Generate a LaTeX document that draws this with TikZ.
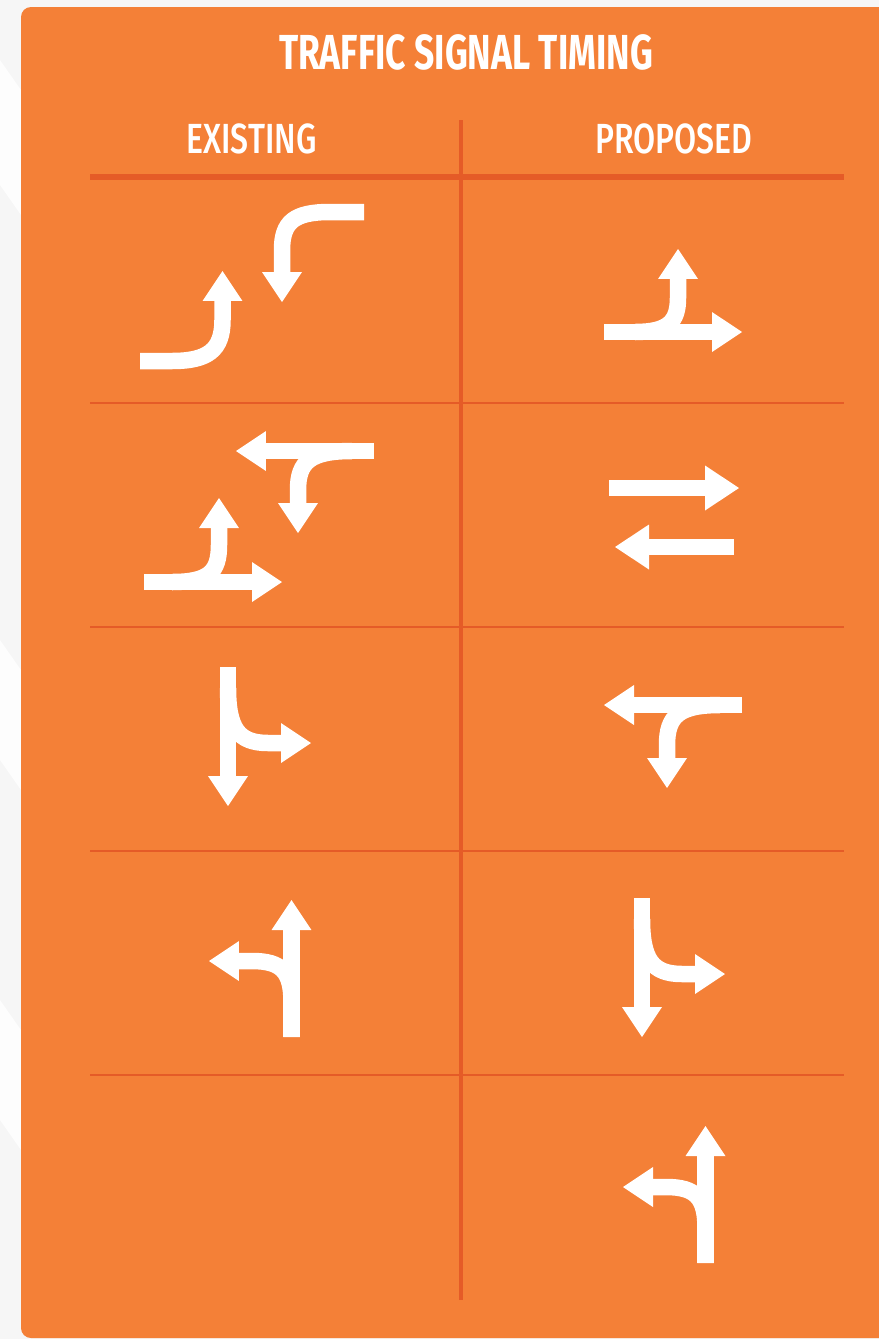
\documentclass[tikz,border=0pt]{standalone}
\usepackage{fontspec}
\newfontfamily\signfont{Fira Sans}[FakeStretch=0.72]
\newfontfamily\colfont{Fira Sans Medium}[FakeStretch=0.76]
\usetikzlibrary{arrows.meta,calc}
\definecolor{signalorange}{HTML}{F48037}
\definecolor{gridred}{HTML}{E55B27}
\definecolor{bggrey}{HTML}{F6F6F6}
\definecolor{bgwhite}{HTML}{FDFDFD}

\tikzset{
  lane/.style={white, line width=0.33cm},
  lanearrow/.style={lane, -{Triangle[length=0.6cm,width=0.8cm,line width=0pt]}},
  widearrow/.style={lane, -{Triangle[length=0.68cm,width=0.9cm,line width=0pt]}},
  headtext/.style={text=white, anchor=base, inner sep=0pt},
}

\begin{document}
\begin{tikzpicture}[x=0.02cm,y=-0.02cm]
        % Page and background
        \useasboundingbox (0,0) rectangle (879,1339);
        \clip (0,0) rectangle (879,1339);
        \fill[bggrey] (0,0) rectangle (879,1339);
        \fill[bgwhite] (0,60) -- (21,90) -- (21,215) -- (0,185) -- cycle;
        \fill[bgwhite] (0,640) -- (21,670) -- (21,790) -- (0,760) -- cycle;
        \fill[bgwhite] (0,1000) -- (21,1030) -- (21,1150) -- (0,1120) -- cycle;
        % Orange panel
        \fill[signalorange, rounded corners=0.2cm] (21,7) rectangle (920,1338);
        % Titles
        \node[headtext, font=\signfont\bfseries\fontsize{28}{32}\selectfont] (title) at (466,69) {TRAFFIC SIGNAL TIMING};
        \node[headtext, font=\colfont\fontsize{24}{28}\selectfont] (existing) at (251.5,153) {EXISTING};
        \node[headtext, font=\colfont\fontsize{24}{28}\selectfont] (proposed) at (674,153) {PROPOSED};
        % Table lines
        \draw[gridred, line width=3.4pt] (90,177) -- (844,177);
        \draw[gridred, line width=2.8pt] (461,120) -- (461,1300);
        \foreach \y in {403,627,851,1075}
          \draw[gridred, line width=0.85pt] (90,\y) -- (844,\y);
        % Row 1, existing
        \draw[lanearrow] (140,361) -- (172,361) .. controls (208,361) and (222.5,350) .. (222.5,320) -- (222.5,271);
        \draw[lanearrow] (364,212) -- (330,212) .. controls (294,212) and (282,222) .. (282,250) -- (282,302);
        % Row 1, proposed
        \draw[lanearrow] (604,332) -- (742,332);
        \draw[lanearrow] (635,332) .. controls (668,332) and (678,322) .. (678,298) -- (678,249);
        % Row 2, existing
        \draw[lanearrow] (374,451) -- (236,451);
        \draw[lanearrow] (352,451) .. controls (310,451) and (298,462) .. (298,490) -- (298,533);
        \draw[lanearrow] (144,582) -- (282,582);
        \draw[lanearrow] (172,582) .. controls (209,582) and (219,572) .. (219,545) -- (219,498);
        % Row 2, proposed
        \draw[widearrow] (609,488) -- (739,488);
        \draw[widearrow] (734,547) -- (615,547);
        % Row 3, existing
        \draw[lanearrow] (228,667) -- (228,806);
        \draw[lanearrow] (228,688) .. controls (228,728) and (238,743) .. (268,743) -- (311,743);
        % Row 3, proposed
        \draw[lanearrow] (742,705) -- (604,705);
        \draw[lanearrow] (720,705) .. controls (679,705) and (667,716) .. (667,745) -- (667,788);
        % Row 4, existing
        \draw[lanearrow] (291.5,1037) -- (291.5,900);
        \draw[lanearrow] (291.5,1037) -- (291.5,1002) .. controls (291.5,972) and (282,961) .. (252,961) -- (209,961);
        % Row 4, proposed
        \draw[lanearrow] (642,898) -- (642,1037);
        \draw[lanearrow] (642,919) .. controls (642,959) and (652,974) .. (682,974) -- (725,974);
        % Row 5, proposed
        \draw[lanearrow] (705.5,1263) -- (705.5,1126);
        \draw[lanearrow] (705.5,1263) -- (705.5,1228) .. controls (705.5,1198) and (696,1187) .. (666,1187) -- (623,1187);
\end{tikzpicture}
\end{document}
